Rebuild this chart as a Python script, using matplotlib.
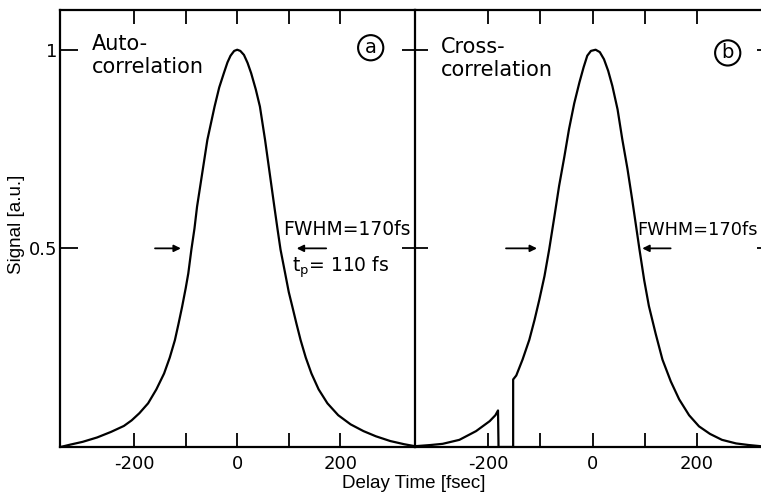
import matplotlib.pyplot as plt

# panel (a): autocorrelation trace
auto_t = [-343, -324, -300, -272, -245, -220, -205, -190, -173, -157, -142, -131, -121,
          -114, -107, -100, -95, -89, -83, -78, -68, -58, -51, -44, -35, -26, -19, -13, -6, 0,
          6, 13, 20, 27, 36, 44, 54, 63, 72, 78, 84, 93, 100, 107, 115, 123, 133, 144,
          158, 175, 196, 220, 245, 269, 297, 324, 345]
auto_sig = [0.0, 0.006, 0.013, 0.024, 0.038, 0.053, 0.067, 0.085, 0.11, 0.145, 0.185, 0.225, 0.269,
            0.31, 0.353, 0.40, 0.437, 0.497, 0.55, 0.605, 0.689, 0.773, 0.815, 0.857, 0.905, 0.941, 0.968, 0.985, 0.997, 1.0,
            0.997, 0.987, 0.967, 0.941, 0.90, 0.857, 0.773, 0.689, 0.605, 0.55, 0.497, 0.437, 0.39, 0.353, 0.31, 0.269, 0.225, 0.185,
            0.145, 0.11, 0.08, 0.057, 0.04, 0.027, 0.015, 0.007, 0.002]

# panel (b): cross-correlation trace
cross_t = [-340, -310, -287, -255, -223, -197, -186, -181, -180, -152, -152, -146,
           -134, -121, -111, -102, -92, -83, -73, -64, -54, -45, -35, -25, -17, -10, -3, 6,
           14, 22, 30, 38, 48, 57, 67, 76, 90, 99, 108, 121, 134, 150, 166, 185, 204,
           225, 248, 275, 299, 330]
cross_sig = [0.002, 0.005, 0.008, 0.018, 0.04, 0.065, 0.08, 0.092, 0.0, 0.0, 0.17, 0.18,
             0.22, 0.27, 0.32, 0.37, 0.43, 0.497, 0.58, 0.657, 0.73, 0.80, 0.865, 0.918, 0.956, 0.985, 0.997, 1.0,
             0.994, 0.976, 0.947, 0.909, 0.85, 0.775, 0.70, 0.623, 0.497, 0.42, 0.355, 0.285, 0.22, 0.165, 0.12, 0.08, 0.052,
             0.033, 0.018, 0.009, 0.005, 0.001]

xticks = [-200, -100, 0, 100, 200]
xticklabels = ['-200', '', '0', '', '200']
yticks = [0.5, 1]
yticklabels = ['0.5', '1']

W, H = 761, 499
fig = plt.figure(figsize=(W / 100, H / 100), dpi=100)
ax_a = fig.add_axes([60 / W, (H - 447) / H, 355 / W, 437 / H])
ax_b = fig.add_axes([415 / W, (H - 447) / H, 355 / W, 437 / H])

lw_curve = 1.6
tickfont = 13

for ax, t, s, xlim in [(ax_a, auto_t, auto_sig, (-344, 345)), (ax_b, cross_t, cross_sig, (-340, 340))]:
    ax.plot(t, s, color='black', linewidth=lw_curve, solid_joinstyle='round')
    ax.set_xlim(*xlim)
    ax.set_ylim(0, 1.10)
    for sp in ax.spines.values():
        sp.set_linewidth(1.6)
    ax.set_xticks(xticks)
    ax.set_xticklabels(xticklabels)
    ax.set_yticks(yticks)
    ax.tick_params(axis='x', which='both', direction='in', top=True, bottom=True,
                   length=10, width=1.3, labelsize=tickfont, pad=6)

ax_a.spines['right'].set_visible(False)
ax_a.tick_params(axis='y', direction='in', left=True, right=False, length=13, width=1.3,
                 labelsize=tickfont, pad=2)
ax_a.set_yticklabels(yticklabels)
ax_b.tick_params(axis='y', direction='inout', left=True, right=True, length=19, width=1.3,
                 labelleft=False)

# text and arrows, panel (a)
ax_a.text(-282, 0.986, 'Auto-\ncorrelation', fontsize=15, ha='left', va='center', linespacing=1.2)
ax_a.text(259, 1.005, 'a', fontsize=14, ha='center', va='center',
          bbox=dict(boxstyle='circle,pad=0.16', fc='white', ec='black', lw=1.5))
ax_a.text(90, 0.547, 'FWHM=170fs', fontsize=13.5, ha='left', va='center')
ax_a.text(107, 0.453, r't$_\mathrm{p}$= 110 fs', fontsize=13.5, ha='left', va='center')
ax_a.annotate('', xy=(-104, 0.5), xytext=(-165, 0.5),
              arrowprops=dict(arrowstyle='-|>', color='black', lw=1.3, mutation_scale=10))
ax_a.annotate('', xy=(110, 0.5), xytext=(178, 0.5),
              arrowprops=dict(arrowstyle='-|>', color='black', lw=1.3, mutation_scale=10))

# text and arrows, panel (b)
ax_b.text(-290, 0.977, 'Cross-\ncorrelation', fontsize=15, ha='left', va='center', linespacing=1.2)
ax_b.text(259, 0.992, 'b', fontsize=14, ha='center', va='center',
          bbox=dict(boxstyle='circle,pad=0.16', fc='white', ec='black', lw=1.5))
ax_b.text(86, 0.547, 'FWHM=170fs', fontsize=12.8, ha='left', va='center')
ax_b.annotate('', xy=(-101, 0.5), xytext=(-171, 0.5),
              arrowprops=dict(arrowstyle='-|>', color='black', lw=1.3, mutation_scale=10))
ax_b.annotate('', xy=(90, 0.5), xytext=(155, 0.5),
              arrowprops=dict(arrowstyle='-|>', color='black', lw=1.3, mutation_scale=10))

fig.text(17 / W, 1 - 224 / H, 'Signal [a.u.]', rotation=90, ha='center', va='center',
         fontsize=13.5, family='Liberation Sans')
fig.text(414 / W, 1 - 483 / H, 'Delay Time [fsec]', ha='center', va='center',
         fontsize=13.5, family='Liberation Sans')

fig.savefig('out.png', dpi=100)
